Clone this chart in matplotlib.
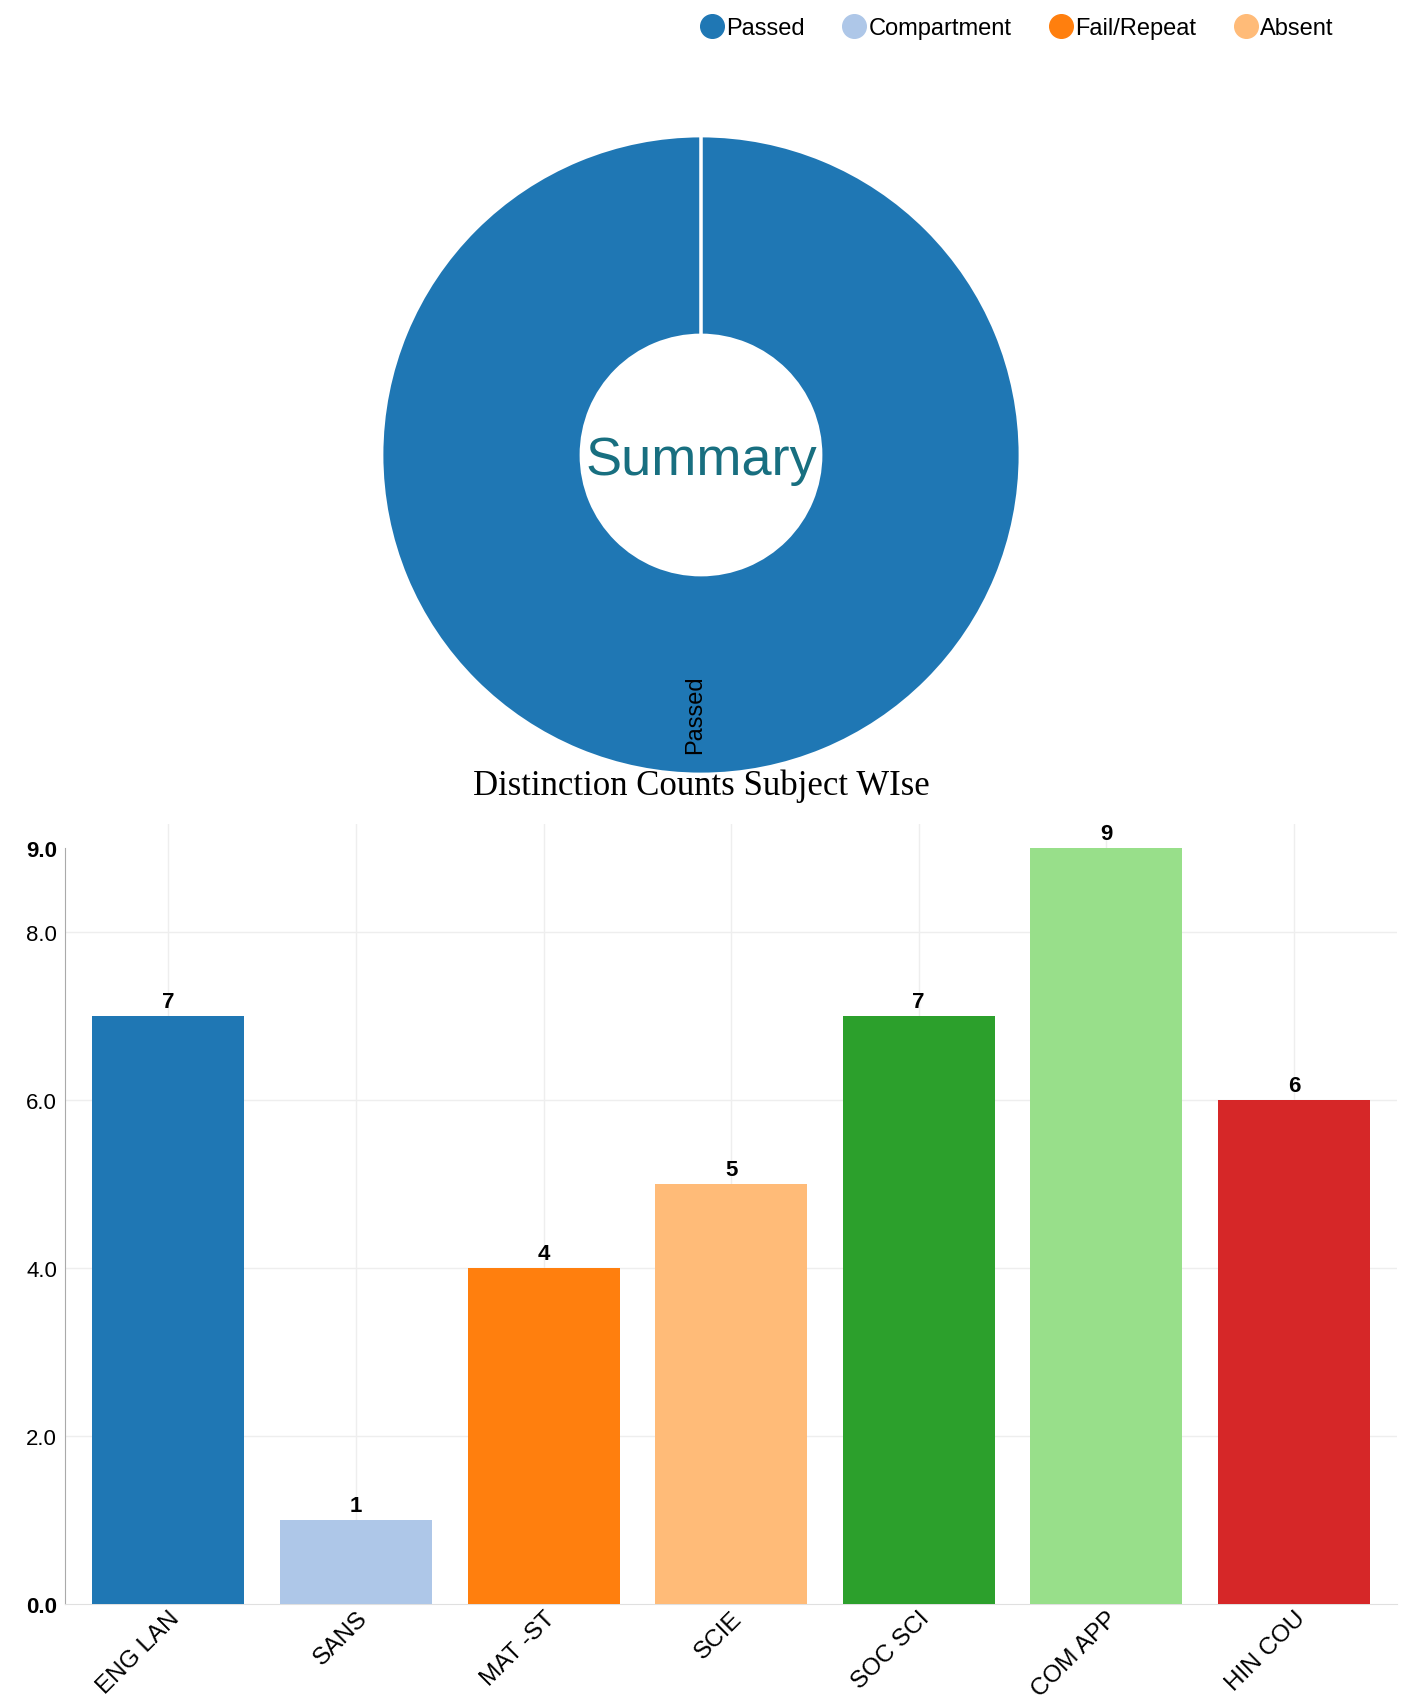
import numpy as np
import matplotlib.pyplot as plt
import matplotlib.transforms as mtransforms
from matplotlib.lines import Line2D

plt.rcParams['font.family'] = ['Liberation Sans', 'DejaVu Sans']

# summary donut (share of students, %)
summary_labels = ["Passed", "Compartment", "Fail/Repeat", "Absent"]
summary_values = [100, 0, 0, 0]
summary_colors = ["#1f77b4", "#aec7e8", "#ff7f0e", "#ffbb78"]

# distinction counts
subjects = ["ENG LAN", "SANS", "MAT -ST", "SCIE", "SOC SCI", "COM APP", "HIN COU"]
distinctions = [7, 1, 4, 5, 7, 9, 6]
bar_colors = ["#1f77b4", "#aec7e8", "#ff7f0e", "#ffbb78", "#2ca02c", "#98df8a", "#d62728"]
y_ticks = [0, 2, 4, 6, 8, 9]

fig = plt.figure(figsize=(14.09, 17.08), dpi=100)

# ---- donut ----
R_px, r_px = 319.0, 120.0
box = 350.0
cx, cy = 701.0, 456.0
W, H = 1409.0, 1708.0
ax1 = fig.add_axes([(cx - box) / W, (H - cy - box) / H, 2 * box / W, 2 * box / H])
wedges, _ = ax1.pie(summary_values, colors=summary_colors, startangle=90,
                    counterclock=False, radius=1.0,
                    wedgeprops=dict(width=1 - r_px / R_px, edgecolor='white', linewidth=2))
ax1.set_xlim(-box / R_px, box / R_px)
ax1.set_ylim(-box / R_px, box / R_px)
ax1.set_aspect('equal')
ax1.axis('off')

for w, lab, v in zip(wedges, summary_labels, summary_values):
    if v <= 0:
        continue
    mid = np.deg2rad((w.theta1 + w.theta2) / 2.0)
    rr = 0.81
    ax1.text(rr * np.cos(mid), rr * np.sin(mid), lab, rotation=90,
             rotation_mode='anchor', ha='center', va='baseline', fontsize=17)

ax1.text(0, -0.015, "Summary", ha='center', va='center', fontsize=39, color='#186f80')

# legend
handles = [Line2D([], [], marker='o', linestyle='none', markersize=17,
                  markerfacecolor=c, markeredgecolor=c) for c in summary_colors]
fig.legend(handles, summary_labels, loc='upper right', bbox_to_anchor=(0.953, 0.995),
           ncol=4, frameon=False, fontsize=17, handletextpad=0.0,
           columnspacing=1.5, borderaxespad=0, handlelength=1.2)

fig.text(701 / W, 1 - 786 / H, "Distinction Counts Subject WIse", ha='center', va='center',
         fontsize=25, family=['Liberation Serif', 'DejaVu Serif'])

# ---- bars ----
ax2 = fig.add_axes([65.3 / W, 0.0603, (1397 - 65.3) / W, 0.5168 - 0.0603])
x = np.arange(len(subjects))
bars = ax2.bar(x, distinctions, width=0.81, color=bar_colors, zorder=3)
ax2.bar_label(bars, labels=[str(v) for v in distinctions], padding=3,
              fontsize=16, fontweight='bold')
ax2.set_xlim(-0.55, len(subjects) - 0.45)
ax2.set_ylim(0, 9.28)
ax2.set_xticks(x)
ax2.set_xticklabels(subjects, rotation=45, ha='right', rotation_mode='anchor', fontsize=17.5)
shift = mtransforms.ScaledTranslation(-6 / 72, 0, fig.dpi_scale_trans)
for lbl in ax2.get_xticklabels():
    lbl.set_transform(lbl.get_transform() + shift)
ax2.set_yticks(y_ticks)
ax2.set_yticklabels([f"{t:.1f}" for t in y_ticks], fontsize=16)
for lbl, t in zip(ax2.get_yticklabels(), y_ticks):
    if t in (0, 9):
        lbl.set_fontweight('bold')
ax2.tick_params(axis='both', length=0)
ax2.tick_params(axis='y', pad=6)
ax2.tick_params(axis='x', pad=2)
ax2.grid(True, color='#eeeeee', linewidth=1, zorder=0)
for gl, t in zip(ax2.yaxis.get_gridlines(), y_ticks):
    if t in (0, 9):
        gl.set_visible(False)
ax2.spines['top'].set_visible(False)
ax2.spines['right'].set_visible(False)
ax2.spines['bottom'].set_color('#e0e0e0')
ax2.spines['left'].set_color('#aaaaaa')
ax2.spines['left'].set_bounds(0, 9)

fig.savefig('out.png', dpi=100)
